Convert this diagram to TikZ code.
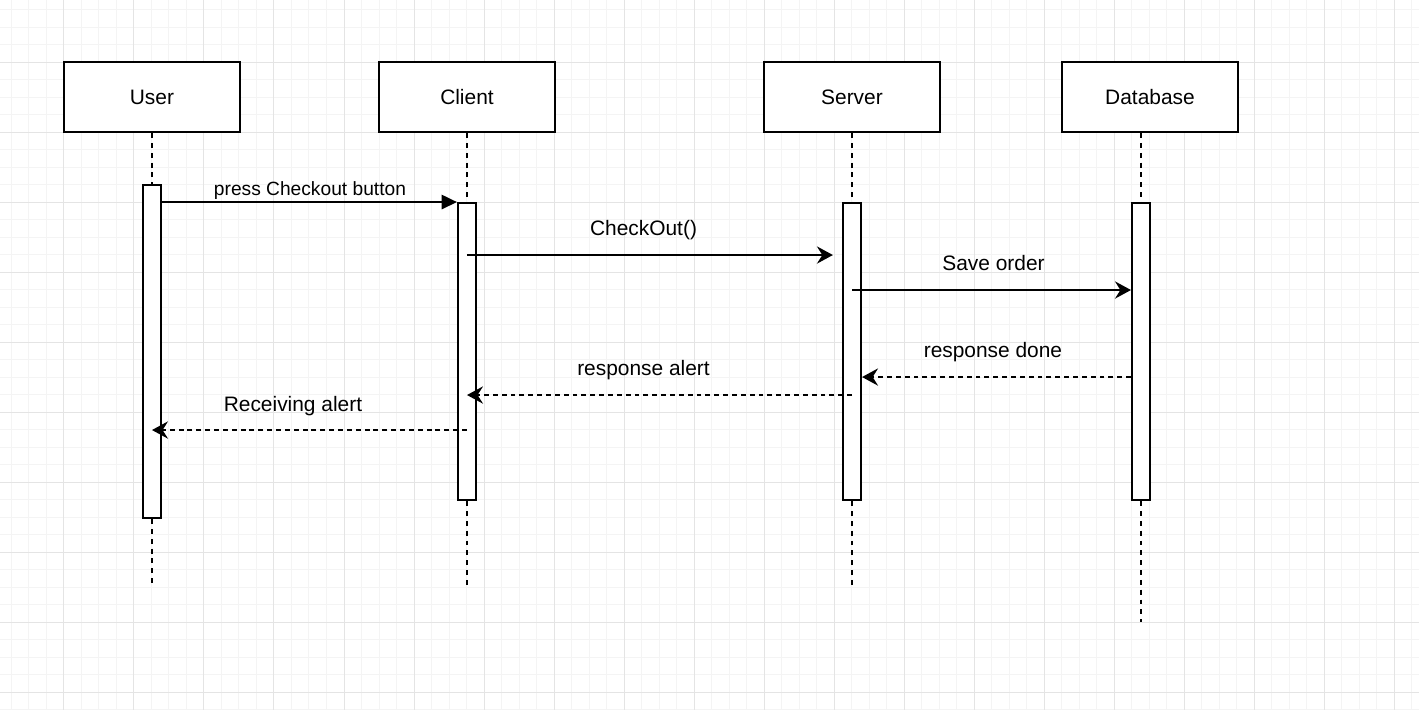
\documentclass[tikz,border=0pt]{standalone}
\usepackage{fontspec}
\setmainfont{Liberation Sans}
\usetikzlibrary{arrows.meta}
\definecolor{gridlight}{RGB}{244,244,244}
\definecolor{griddark}{RGB}{228,228,228}

\begin{document}
\begin{tikzpicture}[x=1cm,y=-1cm,
        party/.style={draw,line width=0.85pt,fill=white,minimum width=2.514cm,minimum height=1cm,inner sep=0pt,font=\fontsize{8.5}{10}\selectfont},
        actbar/.style={draw,line width=0.85pt,fill=white,minimum width=0.257cm,inner sep=0pt,anchor=north},
        lifeline/.style={line width=0.85pt,dash pattern=on 2pt off 2pt},
        call/.style={line width=0.8pt,-{Triangle[length=6.2pt,width=5.8pt]}},
        msg/.style={line width=0.8pt,-{Stealth[length=6.5pt,width=7pt,inset=2.2pt]}},
        reply/.style={msg,dash pattern=on 2pt off 1.6pt},
        msglabel/.style={inner sep=0pt,anchor=base,font=\fontsize{8.5}{10}\selectfont},
        smalllabel/.style={msglabel,font=\fontsize{7.8}{9}\selectfont}]
    \useasboundingbox (-0.914,-0.886) rectangle (19.357,9.257);
    \fill[white] (-0.914,-0.886) rectangle (19.357,9.257);
    %% grid
    \foreach \i in {-3,...,77}
        \draw[gridlight,line width=0.4pt] (\i/4,-0.886) -- (\i/4,9.257);
    \foreach \j in {-3,...,37}
        \draw[gridlight,line width=0.4pt] (-0.914,\j/4) -- (19.357,\j/4);
    \foreach \i in {0,...,19}
        \draw[griddark,line width=0.4pt] (\i,-0.886) -- (\i,9.257);
    \foreach \j in {0,...,9}
        \draw[griddark,line width=0.4pt] (-0.914,\j) -- (19.357,\j);
    %% parties
    \node[party] (user) at (1.257,0.5) {User};
    \node[party] (client) at (5.757,0.5) {Client};
    \node[party] (server) at (11.257,0.5) {Server};
    \node[party] (db) at (15.514,0.5) {Database};
    %% activation bars
    \node[actbar,minimum height=4.757cm] (ubar) at (1.257,1.743) {};
    \node[actbar,minimum height=4.243cm] (cbar) at (5.757,2) {};
    \node[actbar,minimum height=4.243cm] (sbar) at (11.257,2) {};
    \node[actbar,minimum height=4.243cm] (dbar) at (15.386,2) {};
    %% lifelines
    \draw[lifeline] (user) -- (ubar);
    \draw[lifeline] (ubar) -- (ubar |- 0,7.5);
    \draw[lifeline] (client) -- (cbar);
    \draw[lifeline] (cbar) -- (cbar |- 0,7.5);
    \draw[lifeline] (server) -- (sbar);
    \draw[lifeline] (sbar) -- (sbar |- 0,7.5);
    \draw[lifeline] (dbar |- db.south) -- (dbar);
    \draw[lifeline] (dbar) -- (dbar |- 0,8);
    %% messages
    \draw[call] (ubar.east |- cbar.north) -- (cbar.north west);
    \node[smalllabel] (lpress) at (3.514,1.9) {press Checkout button};
    \draw[msg,shorten >=0.129cm] (cbar |- 0,2.757) -- (sbar.west |- 0,2.757);
    \node[msglabel] (lcheckout) at (8.279,2.478) {CheckOut()};
    \draw[msg] (sbar |- 0,3.257) -- (dbar.west |- 0,3.257);
    \node[msglabel] (lsave) at (13.279,2.978) {Save order};
    %% replies
    \draw[reply] (dbar.west |- 0,4.5) -- (sbar.east |- 0,4.5);
    \node[msglabel] (ldone) at (13.271,4.214) {response done};
    \draw[reply] (sbar |- 0,4.757) -- (cbar |- 0,4.757);
    \node[msglabel] (lalert) at (8.279,4.478) {response alert};
    \draw[reply] (cbar |- 0,5.257) -- (ubar |- 0,5.257);
    \node[msglabel] (lreceive) at (3.271,4.986) {Receiving alert};
\end{tikzpicture}
\end{document}
